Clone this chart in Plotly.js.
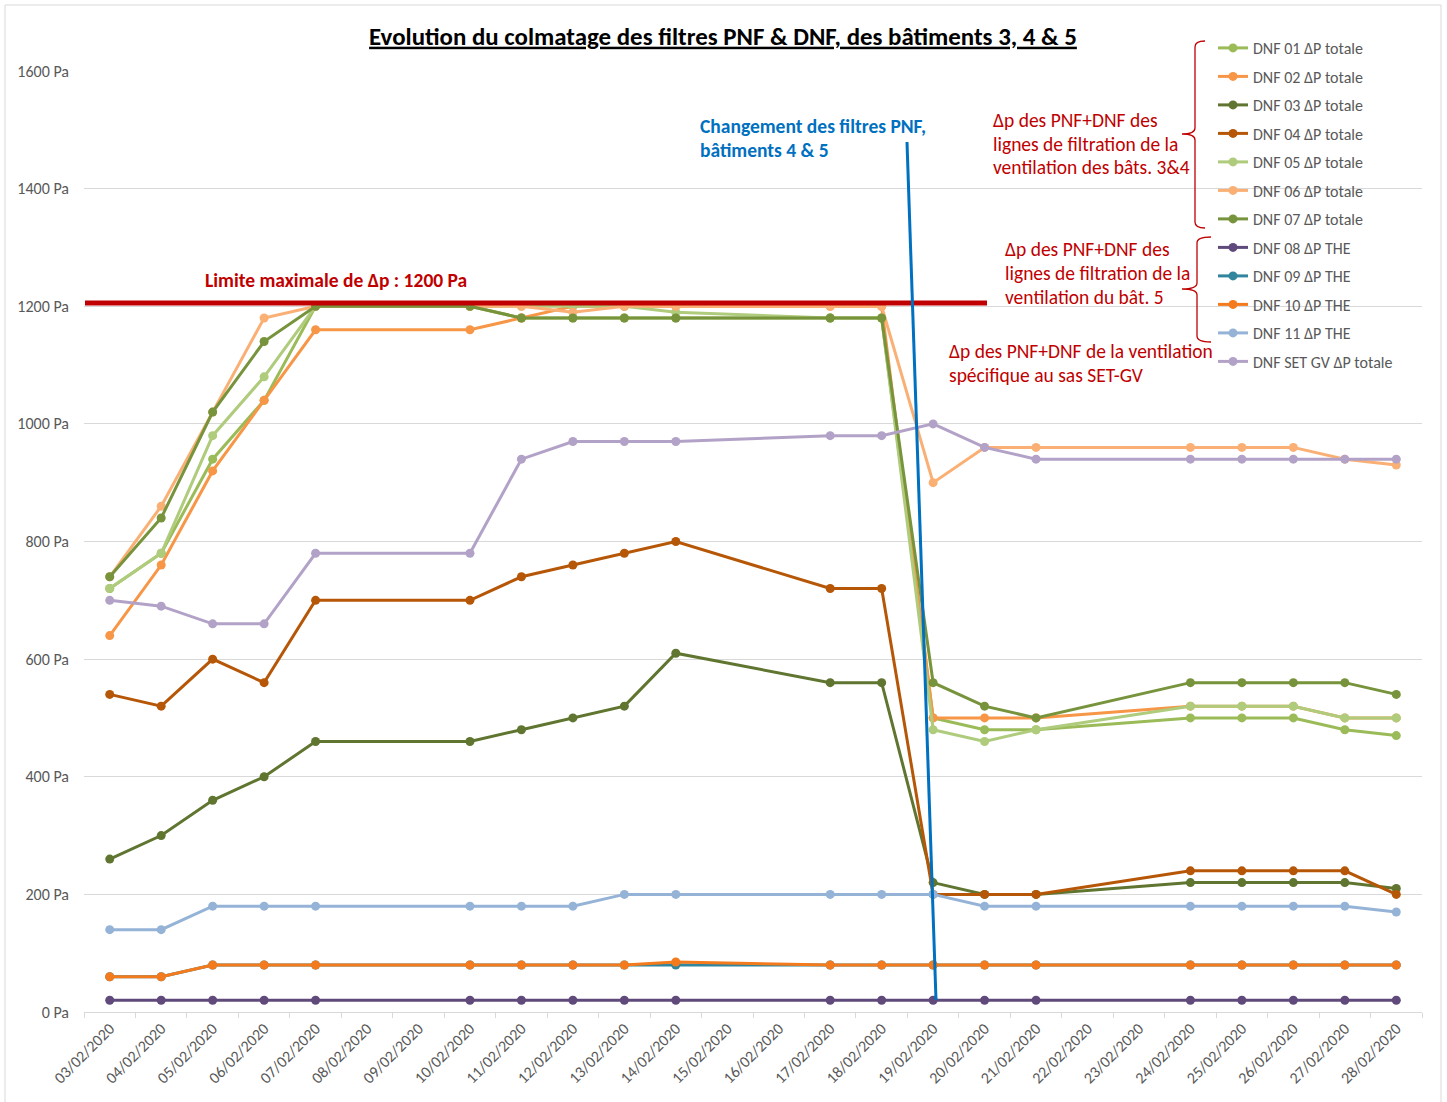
<!DOCTYPE html>
<html>
<head>
<meta charset="utf-8">
<script src="https://cdn.plot.ly/plotly-3.0.1.min.js"></script>
<style>html,body{margin:0;padding:0;background:#fff;}#chart{width:1447px;height:1102px;}</style>
</head>
<body>
<div id="chart"></div>
<script>
// ---- data ----
const allDays = ['03/02/2020','04/02/2020','05/02/2020','06/02/2020','07/02/2020','08/02/2020','09/02/2020','10/02/2020','11/02/2020','12/02/2020','13/02/2020','14/02/2020','15/02/2020','16/02/2020','17/02/2020','18/02/2020','19/02/2020','20/02/2020','21/02/2020','22/02/2020','23/02/2020','24/02/2020','25/02/2020','26/02/2020','27/02/2020','28/02/2020'];
const dates = ['03/02/2020','04/02/2020','05/02/2020','06/02/2020','07/02/2020','10/02/2020','11/02/2020','12/02/2020','13/02/2020','14/02/2020','17/02/2020','18/02/2020','19/02/2020','20/02/2020','21/02/2020','24/02/2020','25/02/2020','26/02/2020','27/02/2020','28/02/2020'];

const seriesNames = ['DNF 01 ΔP totale','DNF 02 ΔP totale','DNF 03 ΔP totale','DNF 04 ΔP totale','DNF 05 ΔP totale','DNF 06 ΔP totale','DNF 07 ΔP totale','DNF 08 ΔP THE','DNF 09 ΔP THE','DNF 10 ΔP THE','DNF 11 ΔP THE','DNF SET GV ΔP totale'];

const dnf01 = [720,780,940,1040,1200,1200,1180,1180,1180,1180,1180,1180,500,480,480,500,500,500,480,470];
const dnf02 = [640,760,920,1040,1160,1160,1180,1200,1200,1200,1200,1200,500,500,500,520,520,520,500,500];
const dnf03 = [260,300,360,400,460,460,480,500,520,610,560,560,220,200,200,220,220,220,220,210];
const dnf04 = [540,520,600,560,700,700,740,760,780,800,720,720,200,200,200,240,240,240,240,200];
const dnf05 = [720,780,980,1080,1200,1200,1200,1200,1200,1190,1180,1180,480,460,480,520,520,520,500,500];
const dnf06 = [740,860,1020,1180,1200,1200,1200,1190,1200,1200,1200,1200,900,960,960,960,960,960,940,930];
const dnf07 = [740,840,1020,1140,1200,1200,1180,1180,1180,1180,1180,1180,560,520,500,560,560,560,560,540];
const dnf08 = [20,20,20,20,20,20,20,20,20,20,20,20,20,20,20,20,20,20,20,20];
const dnf09 = [60,60,80,80,80,80,80,80,80,80,80,80,80,80,80,80,80,80,80,80];
const dnf10 = [60,60,80,80,80,80,80,80,80,85,80,80,80,80,80,80,80,80,80,80];
const dnf11 = [140,140,180,180,180,180,180,180,200,200,200,200,200,180,180,180,180,180,180,170];
const setgv = [700,690,660,660,780,780,940,970,970,970,980,980,1000,960,940,940,940,940,940,940];

const seriesValues = [dnf01,dnf02,dnf03,dnf04,dnf05,dnf06,dnf07,dnf08,dnf09,dnf10,dnf11,setgv];
const seriesColors = ['#9BBB59','#F79646','#5F7530','#B65708','#AFCB7C','#FAB074','#77933C','#604A7B','#31859C','#F37B1D','#95B3D7','#B3A2C7'];

const yTickVals = [0,200,400,600,800,1000,1200,1400,1600];
const yTickText = yTickVals.map(v => v + ' Pa');

// ---- layout helpers (pixel -> paper) ----
const L = 84, R = 1422, T = 71, B = 1012;
const px = x => (x - L) / (R - L);
const py = y => (B - y) / (B - T);

const FONT = 'Carlito, Calibri, Lato, sans-serif';
const RED = '#C00000';
const BLUE = '#0070C0';

const traces = seriesNames.map((n, i) => ({
  type: 'scatter', mode: 'lines+markers', name: n,
  x: dates, y: seriesValues[i],
  line: {color: seriesColors[i], width: 3},
  marker: {color: seriesColors[i], size: 9},
  legendgroup: 'g' + i,
  hoverinfo: 'x+y+name'
}));

function seg(x0,y0,x1,y1,color,w){
  return {type:'line', xref:'paper', yref:'paper', x0:px(x0), y0:py(y0), x1:px(x1), y1:py(y1), line:{color:color,width:w}};
}
function brace(x, yTop, yMid, yBot, tip, hook){
  const P = (a,b) => px(a).toFixed(5) + ',' + py(b).toFixed(5);
  const d = 'M' + P(x+hook, yTop) + ' Q' + P(x, yTop) + ' ' + P(x, yTop+6) +
            ' L' + P(x, yMid-6) + ' Q' + P(x, yMid) + ' ' + P(tip, yMid) +
            ' Q' + P(x, yMid) + ' ' + P(x, yMid+6) +
            ' L' + P(x, yBot-6) + ' Q' + P(x, yBot) + ' ' + P(x+hook, yBot);
  return {type:'path', xref:'paper', yref:'paper', path:d, line:{color:RED, width:1.3}};
}

const shapes = [
  {type:'rect', xref:'paper', yref:'paper', x0:px(5), y0:py(5), x1:px(1441), y1:py(1106), line:{color:'#D9D9D9', width:1}, layer:'below'},
  seg(85,303,987,303,RED,5),
  seg(907,142,936,1000,BLUE,3),
  brace(1195,41,134,228,1182,10),
  brace(1197,237,289,342,1182,14)
];

function ann(text, x, y, color, size, bold){
  return {text: bold ? '<b>'+text+'</b>' : text, xref:'paper', yref:'paper', x:px(x), y:py(y),
    xanchor: 'left', yanchor:'middle', showarrow:false,
    font:{family:FONT, size:size, color:color}};
}

const AS = 19.5;
const annotations = [
  ann('Limite maximale de Δp : 1200 Pa', 203, 280, RED, AS, true),
  ann('Changement des filtres PNF,', 698, 126, BLUE, AS, true),
  ann('bâtiments 4 & 5', 698, 150, BLUE, AS, true),
  ann('Δp des PNF+DNF des', 991, 120, RED, AS, false),
  ann('lignes de filtration de la', 991, 144, RED, AS, false),
  ann('ventilation des bâts. 3&4', 991, 167, RED, AS, false),
  ann('Δp des PNF+DNF des', 1003, 249, RED, AS, false),
  ann('lignes de filtration de la', 1003, 273, RED, AS, false),
  ann('ventilation du bât. 5', 1003, 297, RED, AS, false),
  ann('Δp des PNF+DNF de la ventilation', 947, 351, RED, AS, false),
  ann('spécifique au sas SET-GV', 947, 375, RED, AS, false)
];

const layout = {
  width: 1447, height: 1102,
  margin: {l: L, r: 1447 - R, t: T, b: 1102 - B, pad: 0},
  paper_bgcolor: '#ffffff', plot_bgcolor: '#ffffff',
  font: {family: FONT, size: 16, color: '#595959'},
  title: {
    text: '<b><u>Evolution du colmatage des filtres PNF & DNF, des bâtiments 3, 4 & 5</u></b>',
    font: {family: FONT, size: 24.9, color: '#000000'},
    xref: 'container', x: 723/1447, xanchor: 'center',
    yref: 'container', y: 1 - 36/1102, yanchor: 'middle'
  },
  xaxis: {
    type: 'category', categoryorder: 'array', categoryarray: allDays,
    tickvals: allDays, ticktext: allDays,
    range: [-0.5, allDays.length - 0.5],
    tickson: 'boundaries', ticks: 'outside', ticklen: 5, tickcolor: '#D9D9D9',
    tickangle: -45, tickfont: {family: FONT, size: 16, color: '#595959'},
    showline: true, linecolor: '#D9D9D9', linewidth: 1,
    showgrid: false, zeroline: false, fixedrange: true
  },
  yaxis: {
    range: [0, 1600], tickvals: yTickVals, ticktext: yTickText,
    showgrid: true, gridcolor: '#D9D9D9', gridwidth: 1,
    zeroline: false, showline: false, ticks: '',
    ticklabelstandoff: 14,
    tickfont: {family: FONT, size: 16, color: '#595959'},
    fixedrange: true
  },
  showlegend: true,
  legend: {
    x: px(1213), xanchor: 'left', y: py(31), yanchor: 'top',
    bgcolor: 'rgba(0,0,0,0)', borderwidth: 0,
    font: {family: FONT, size: 16, color: '#595959'},
    tracegroupgap: 4.7, traceorder: 'grouped', itemwidth: 30
  },
  shapes: shapes,
  annotations: annotations
};

Plotly.newPlot('chart', traces, layout, {displayModeBar: false, responsive: false});
</script>
</body>
</html>
